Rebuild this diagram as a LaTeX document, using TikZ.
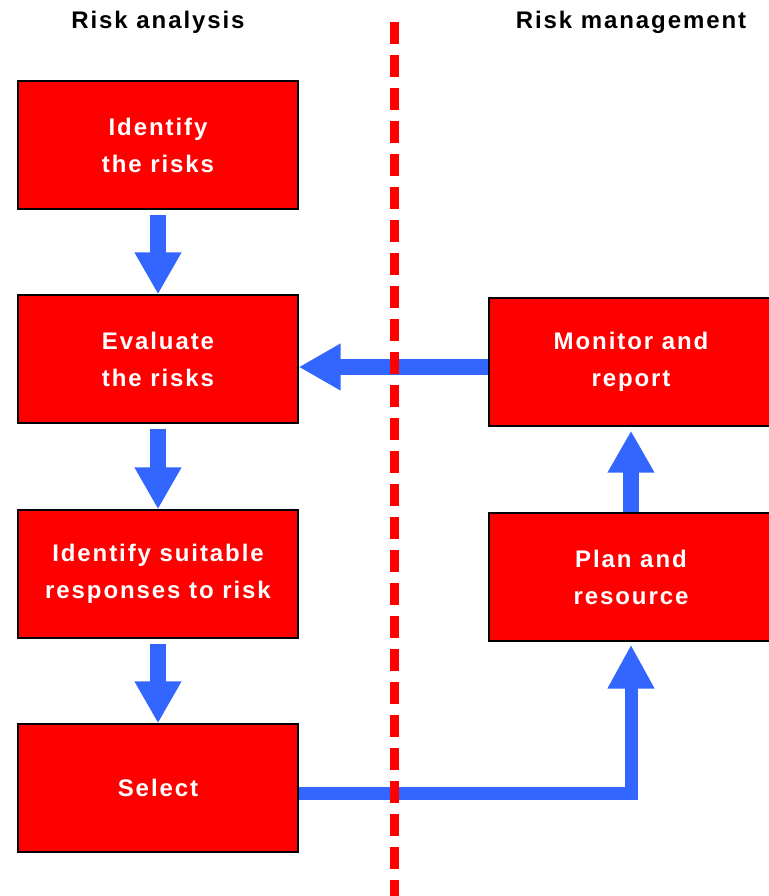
\documentclass[tikz,border=0pt]{standalone}
\usepackage{fontspec}
\setmainfont{Liberation Sans}
\usetikzlibrary{arrows.meta}

\definecolor{boxred}{RGB}{255,0,0}
\definecolor{flowblue}{RGB}{51,102,255}

\begin{document}
\begin{tikzpicture}[
  x=0.5pt, y=-0.5pt,
  box/.style={
    draw=black, fill=boxred, line width=0.7pt,
    minimum width=140pt, minimum height=64pt,
    text=white,
    font=\bfseries\fontsize{12}{18.5}\selectfont\addfontfeature{LetterSpace=8},
    align=center, inner sep=0pt
  },
  wide/.style={box, minimum width=142pt},
  title/.style={font=\bfseries\fontsize{12}{14}\selectfont\addfontfeature{LetterSpace=8}},
  flow/.style={draw=flowblue, line width=8pt,
    -{Triangle[width=22pt, length=21pt]}},
  link/.style={draw=flowblue, line width=6.5pt,
    -{Triangle[width=22pt, length=22pt]}},
  divider/.style={draw=boxred, line width=4.5pt,
    dash pattern=on 11pt off 5.5pt},
]
\useasboundingbox (0,0) rectangle (769,896);

\def\colL{158}
\def\colR{631}

% column headings
\node[title] (analysis)   at (\colL, 22) {Risk analysis};
\node[title] (management) at (\colR, 22) {Risk management};

% risk analysis side
\node[box] (identify) at (\colL, 145) {Identify\\the risks};
\node[box] (evaluate) at (\colL, 359) {Evaluate\\the risks};
\node[box] (respond)  at (\colL, 574) {Identify suitable\\responses to risk};
\node[box] (select)   at (\colL, 788) {Select};

% risk management side
\node[wide] (monitor) at (\colR, 362) {Monitor and\\report};
\node[wide] (plan)    at (\colR, 577) {Plan and\\resource};

\draw[flow, shorten <=2.5pt] (identify) -- (evaluate);
\draw[flow, shorten <=2.5pt] (evaluate) -- (respond);
\draw[flow, shorten <=2.5pt] (respond)  -- (select);
\draw[flow] ([yshift=-2.5pt]monitor.west) -- ([yshift=-2.5pt]monitor.west -| evaluate.east);
\draw[flow, shorten >=2pt] (plan) -- (monitor);
\draw[link, shorten >=1.5pt] ([yshift=-2.5pt]select.east) -| (plan.south);

% boundary between the two sides
\coordinate (divtop) at (394, 22);
\coordinate (divbot) at (394, 896);
\draw[divider] (divtop) -- (divbot);

\end{tikzpicture}
\end{document}
